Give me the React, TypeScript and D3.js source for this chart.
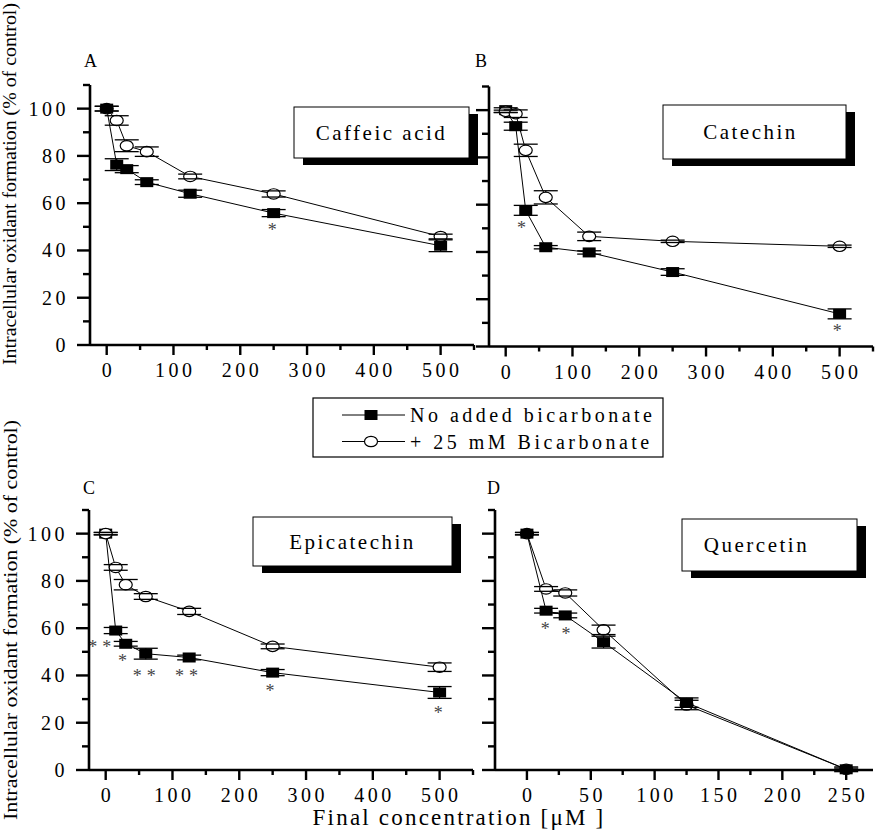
import React from 'react';
import * as d3 from 'd3';

// ---------- data ----------
const concABC = [0, 15, 30, 60, 125, 250, 500];
const concD = [0, 15, 30, 60, 125, 250];

const caffeicNoBic = [100, 76.3, 74.4, 68.9, 64, 55.8, 42];
const caffeicNoBicErr = [1, 2.5, 1.5, 1, 1.5, 1.5, 2.5];
const caffeicBic = [100, 95, 84.3, 81.8, 71.3, 63.9, 45.9];
const caffeicBicErr = [1, 2, 2.5, 2, 1, 1.3, 1];

const catechinNoBic = [100, 93.2, 57.6, 42, 39.8, 31.5, 13.8];
const catechinNoBicErr = [1, 1.7, 2.1, 0.7, 0.7, 1.4, 2.1];
const catechinBic = [99.5, 98.5, 83, 63.1, 46.6, 44.5, 42.4];
const catechinBicErr = [0.5, 1.6, 2.6, 2.8, 1.8, 0.5, 0.5];

const epiNoBic = [100, 59, 53.4, 49.2, 47.6, 41.2, 32.8];
const epiNoBicErr = [0.5, 1.3, 1, 2.3, 1, 1.3, 2.5];
const epiBic = [100, 85.7, 78.4, 73.4, 67.1, 52.3, 43.5];
const epiBicErr = [0.5, 1.2, 2.2, 1.2, 1.3, 1, 1.8];

const querNoBic = [100, 67.4, 65.4, 54.1, 28.5, 0.3];
const querNoBicErr = [0.5, 1, 1, 2.5, 2, 1];
const querBic = [100, 76.6, 74.9, 59.3, 27.5, 0.3];
const querBicErr = [0.5, 1, 1.3, 2, 2, 0.5];

// significance marks: [x, y, label] in data units
const starsA: [number, number, string][] = [[248, 50, '*']];
const starsB: [number, number, string][] = [[23.5, 51.6, '*'], [496.5, 8, '*']];
const starsC: [number, number, string][] = [
  [-5, 53.3, '**'], [25, 47.3, '*'], [61.4, 41.2, '**'], [124.7, 41.2, '**'], [246, 34.6, '*'], [498, 25.4, '*'],
];
const starsD: [number, number, string][] = [[14.3, 61.1, '*'], [30.5, 59, '*']];

const ticksABC = [0, 100, 200, 300, 400, 500];
const minorABC = [50, 150, 250, 350, 450, 550];
const ticksD = [0, 50, 100, 150, 200, 250];
const minorD = [25, 75, 125, 175, 225];
const yTicks = [0, 20, 40, 60, 80, 100];
const yMinor = [10, 30, 50, 70, 90, 110];

const legendLabels = ['No added bicarbonate', '+ 25 mM Bicarbonate'];
const yTitle = 'Intracellular oxidant formation (% of control)';
const xTitle = 'Final concentration [\u03BCM ]';

// ---------- layout ----------
const FONT = "'Liberation Serif', 'Times New Roman', serif";

type Panel = {
  letter: string; title: string; conc: number[];
  noBic: number[]; noBicErr: number[]; bic: number[]; bicErr: number[];
  stars: [number, number, string][];
  xDomain: [number, number]; xTicks: number[]; xMinor: number[];
  l: number; r: number; t: number; b: number;
  box: { x: number; y: number; w: number; h: number; tx: number };
  letterPos: [number, number];
  circleOnTop: boolean; yLabels: boolean;
};

const panels: Panel[] = [
  {
    letter: 'A', title: 'Caffeic acid', conc: concABC,
    noBic: caffeicNoBic, noBicErr: caffeicNoBicErr, bic: caffeicBic, bicErr: caffeicBicErr,
    stars: starsA, xDomain: [-25, 550], xTicks: ticksABC, xMinor: minorABC,
    l: 90, r: 474, t: 85, b: 345,
    box: { x: 294, y: 107, w: 175, h: 51, tx: 0 }, letterPos: [84, 67],
    circleOnTop: false, yLabels: true,
  },
  {
    letter: 'B', title: 'Catechin', conc: concABC,
    noBic: catechinNoBic, noBicErr: catechinNoBicErr, bic: catechinBic, bicErr: catechinBicErr,
    stars: starsB, xDomain: [-25, 550], xTicks: ticksABC, xMinor: minorABC,
    l: 489, r: 873, t: 86.5, b: 346.5,
    box: { x: 663, y: 105, w: 183, h: 54, tx: -4 }, letterPos: [475, 67],
    circleOnTop: true, yLabels: false,
  },
  {
    letter: 'C', title: 'Epicatechin', conc: concABC,
    noBic: epiNoBic, noBicErr: epiNoBicErr, bic: epiBic, bicErr: epiBicErr,
    stars: starsC, xDomain: [-25, 550], xTicks: ticksABC, xMinor: minorABC,
    l: 89, r: 473, t: 510, b: 770,
    box: { x: 253, y: 517, w: 199, h: 49, tx: 0 }, letterPos: [83, 494],
    circleOnTop: true, yLabels: true,
  },
  {
    letter: 'D', title: 'Quercetin', conc: concD,
    noBic: querNoBic, noBicErr: querNoBicErr, bic: querBic, bicErr: querBicErr,
    stars: starsD, xDomain: [-25, 271], xTicks: ticksD, xMinor: minorD,
    l: 495, r: 873, t: 510, b: 770,
    box: { x: 682, y: 519, w: 175, h: 52, tx: -13 }, letterPos: [487, 494],
    circleOnTop: false, yLabels: false,
  },
];

const SQ_W = 13, SQ_H = 10, C_RX = 6.5, C_RY = 5.2, CAP = 12;

function Square({ cx, cy }: { cx: number; cy: number }) {
  return <rect x={cx - SQ_W / 2} y={cy - SQ_H / 2} width={SQ_W} height={SQ_H} fill="#000" />;
}
function Circle({ cx, cy }: { cx: number; cy: number }) {
  return <ellipse cx={cx} cy={cy} rx={C_RX} ry={C_RY} fill="#fff" stroke="#000" strokeWidth={1.2} />;
}

function PanelView({ p }: { p: Panel }) {
  const x = d3.scaleLinear().domain(p.xDomain).range([p.l, p.r]);
  const y = d3.scaleLinear().domain([0, 110]).range([p.b, p.t]);
  const line = d3.line<number>().x((_, i) => x(p.conc[i])).y((d) => y(d));

  const series = [
    { vals: p.noBic, err: p.noBicErr, kind: 'sq' },
    { vals: p.bic, err: p.bicErr, kind: 'ci' },
  ];
  const ordered = p.circleOnTop ? series : [series[1], series[0]];

  return (
    <g>
      {/* panel letter */}
      <text x={p.letterPos[0]} y={p.letterPos[1]} fontFamily={FONT} fontSize={18}>{p.letter}</text>

      {/* title box */}
      <rect x={p.box.x + 9} y={p.box.y + 7} width={p.box.w} height={p.box.h} fill="#000" />
      <rect x={p.box.x} y={p.box.y} width={p.box.w} height={p.box.h} fill="#fff" stroke="#000" strokeWidth={1} />
      <text x={p.box.x + p.box.w / 2 + p.box.tx} y={p.box.y + p.box.h / 2 + 7} textAnchor="middle"
        fontFamily={FONT} fontSize={21} letterSpacing={2.5}>{p.title}</text>

      {/* lines */}
      {series.map((s, i) => (
        <path key={'l' + i} d={line(s.vals) || ''} fill="none" stroke="#000" strokeWidth={1} />
      ))}
      {/* error bar stems */}
      {series.map((s, i) => s.vals.map((v, j) => (
        <line key={'e' + i + '-' + j} x1={x(p.conc[j])} x2={x(p.conc[j])} y1={y(v - s.err[j])} y2={y(v + s.err[j])}
          stroke="#000" strokeWidth={1.2} />
      )))}
      {/* markers */}
      {ordered.map((s, i) => (
        <g key={'m' + i}>
          {s.vals.map((v, j) => s.kind === 'sq'
            ? <Square key={j} cx={x(p.conc[j])} cy={y(v)} />
            : <Circle key={j} cx={x(p.conc[j])} cy={y(v)} />)}
        </g>
      ))}
      {/* caps */}
      {series.map((s, i) => s.vals.map((v, j) => (
        <g key={'c' + i + '-' + j}>
          <line x1={x(p.conc[j]) - CAP} x2={x(p.conc[j]) + CAP} y1={y(v + s.err[j])} y2={y(v + s.err[j])} stroke="#000" strokeWidth={1.3} />
          <line x1={x(p.conc[j]) - CAP} x2={x(p.conc[j]) + CAP} y1={y(v - s.err[j])} y2={y(v - s.err[j])} stroke="#000" strokeWidth={1.3} />
        </g>
      )))}
      {/* stars */}
      {p.stars.map(([sx, sy, lab], i) => (
        <text key={'s' + i} x={x(sx)} y={y(sy) + 9} textAnchor="middle" fontFamily={FONT} fontSize={18}
          fill="#444" letterSpacing={lab.length > 1 ? 5 : 0}>{lab}</text>
      ))}

      {/* axes */}
      <line x1={p.l} x2={p.l} y1={y(0)} y2={y(110)} stroke="#000" strokeWidth={2.6} />
      <line x1={p.l} x2={p.r} y1={y(0)} y2={y(0)} stroke="#000" strokeWidth={2.6} />
      {yTicks.map((t) => (
        <line key={'yt' + t} x1={p.l - 13} x2={p.l} y1={y(t)} y2={y(t)} stroke="#000" strokeWidth={2.4} />
      ))}
      {yMinor.map((t) => (
        <line key={'ym' + t} x1={p.l - 7} x2={p.l} y1={y(t)} y2={y(t)} stroke="#000" strokeWidth={2.4} />
      ))}
      {p.yLabels && yTicks.map((t) => (
        <text key={'yl' + t} x={p.l - 21} y={y(t) + 7} textAnchor="end" fontFamily={FONT} fontSize={20}
          letterSpacing={3.5}>{t}</text>
      ))}
      {p.xTicks.map((t) => (
        <line key={'xt' + t} x1={x(t)} x2={x(t)} y1={y(0)} y2={y(0) + 10} stroke="#000" strokeWidth={2.4} />
      ))}
      {p.xMinor.map((t) => (
        <line key={'xm' + t} x1={x(t)} x2={x(t)} y1={y(0)} y2={y(0) + 5} stroke="#000" strokeWidth={2.4} />
      ))}
      {p.xTicks.map((t) => (
        <text key={'xl' + t} x={x(t) + 1.75} y={y(0) + 32} textAnchor="middle" fontFamily={FONT} fontSize={20}
          letterSpacing={3.5}>{t}</text>
      ))}
    </g>
  );
}

export default function App() {
  return (
    <svg width={876} height={830} style={{ position: 'absolute', left: 0, top: 0, background: '#fff' }}>
      <rect x={0} y={0} width={876} height={830} fill="#fff" />
      {panels.map((p) => <PanelView key={p.letter} p={p} />)}

      {/* y titles */}
      <text transform="translate(16,184) rotate(-90)" textAnchor="middle" fontFamily={FONT} fontSize={19}
        textLength={362} lengthAdjust="spacingAndGlyphs">{yTitle}</text>
      <text transform="translate(17,620) rotate(-90)" textAnchor="middle" fontFamily={FONT} fontSize={19}
        textLength={400} lengthAdjust="spacingAndGlyphs">{yTitle}</text>

      {/* x title */}
      <text x={459} y={825} textAnchor="middle" fontFamily={FONT} fontSize={23} letterSpacing={2.2}>{xTitle}</text>

      {/* legend */}
      <rect x={313} y={398} width={350} height={59} fill="#fff" stroke="#000" strokeWidth={1.2} />
      <line x1={342} x2={405} y1={415} y2={415} stroke="#000" strokeWidth={1} />
      <Square cx={371} cy={415} />
      <line x1={342} x2={405} y1={441.5} y2={441.5} stroke="#000" strokeWidth={1} />
      <Circle cx={371} cy={441.5} />
      <text x={410} y={422} fontFamily={FONT} fontSize={20} letterSpacing={3.5}>{legendLabels[0]}</text>
      <text x={410} y={448.5} fontFamily={FONT} fontSize={20} letterSpacing={3.5}>{legendLabels[1]}</text>
    </svg>
  );
}
